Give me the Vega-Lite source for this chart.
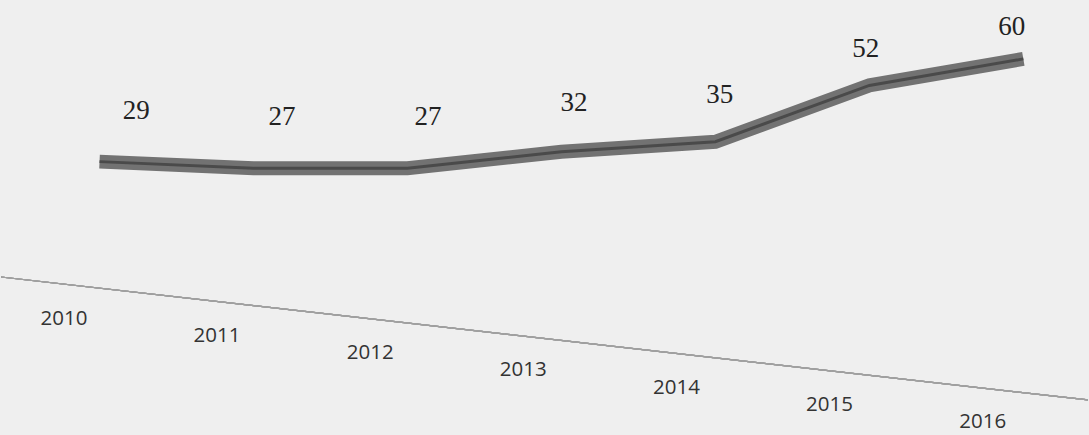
{
  "$schema": "https://vega.github.io/schema/vega-lite/v6.json",
  "width": 1089,
  "height": 435,
  "autosize": {"type": "fit", "contains": "padding"},
  "padding": 0,
  "background": "#efefef",
  "config": {"view": {"stroke": null}},
  "data": {
    "values": [
      {"year": 2010, "value": 29},
      {"year": 2011, "value": 27},
      {"year": 2012, "value": 27},
      {"year": 2013, "value": 32},
      {"year": 2014, "value": 35},
      {"year": 2015, "value": 52},
      {"year": 2016, "value": 60}
    ]
  },
  "layer": [
    {
      "layer": [
        {
          "mark": {"type": "line", "color": "#727272", "strokeWidth": 14, "strokeJoin": "miter", "strokeCap": "butt"},
          "encoding": {
            "x": {"field": "year", "type": "quantitative", "scale": {"domain": [2009.36, 2016.42], "nice": false, "zero": false}, "axis": null},
            "y": {"field": "value", "type": "quantitative", "scale": {"domain": [-53.49, 77.77], "nice": false, "zero": false}, "axis": null}
          }
        },
        {
          "mark": {"type": "line", "color": "#4a4a4a", "strokeWidth": 3, "strokeJoin": "miter"},
          "encoding": {
            "x": {"field": "year", "type": "quantitative", "scale": {"domain": [2009.36, 2016.42], "nice": false, "zero": false}, "axis": null},
            "y": {"field": "value", "type": "quantitative", "scale": {"domain": [-53.49, 77.77], "nice": false, "zero": false}, "axis": null}
          }
        }
      ]
    },
    {
      "mark": {"type": "text", "font": "Liberation Serif", "fontSize": 27, "color": "#222222", "baseline": "middle", "align": "center"},
      "encoding": {
        "x": {"field": "year", "type": "quantitative", "scale": {"domain": [2009.074, 2016.523], "nice": false, "zero": false}, "axis": null},
        "y": {"field": "value", "type": "quantitative", "scale": {"domain": [-89.99, 69.88], "nice": false, "zero": false}, "axis": null},
        "text": {"field": "value", "type": "quantitative"}
      }
    },
    {
      "layer": [
        {
          "mark": {"type": "rule", "color": "#a0a0a0", "strokeWidth": 1.2},
          "encoding": {
            "x": {"datum": 2009.589, "type": "quantitative", "scale": {"domain": [2009.589, 2016.688], "nice": false, "zero": false}, "axis": null},
            "x2": {"datum": 2016.688},
            "y": {"datum": 2007.59, "type": "quantitative", "scale": {"domain": [1991.533, 2016.751], "nice": false, "zero": false, "reverse": true}, "axis": null},
            "y2": {"datum": 2014.72}
          }
        },
        {
          "mark": {"type": "text", "font": "Open Sans", "fontSize": 20.5, "color": "#333333", "baseline": "middle", "align": "center"},
          "encoding": {
            "x": {"field": "year", "type": "quantitative", "scale": {"domain": [2009.589, 2016.688], "nice": false, "zero": false}, "axis": null},
            "y": {"field": "year", "type": "quantitative", "scale": {"domain": [1991.533, 2016.751], "nice": false, "zero": false, "reverse": true}, "axis": null},
            "text": {"field": "year", "type": "nominal"}
          }
        }
      ]
    }
  ],
  "resolve": {"scale": {"x": "independent", "y": "independent"}}
}
